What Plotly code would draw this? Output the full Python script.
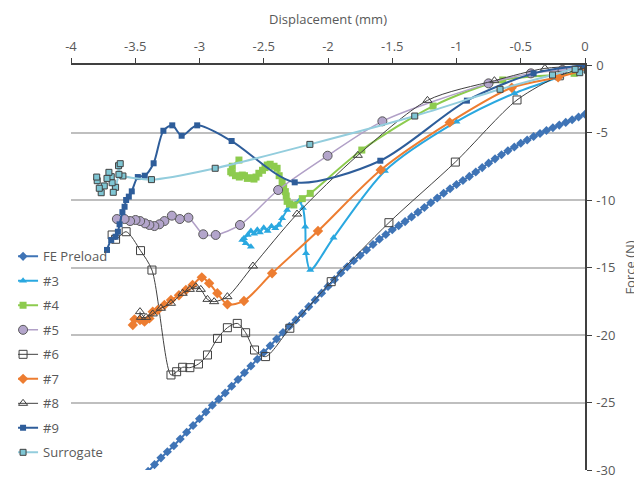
import plotly.graph_objects as go

# ---------------- data (displacement mm, force N) ----------------
fe_x = [0.00, -0.05, -0.10, -0.15, -0.20, -0.25, -0.30, -0.35, -0.40, -0.45,
        -0.50, -0.55, -0.60, -0.65, -0.70, -0.75, -0.80, -0.85, -0.90, -0.95,
        -1.00, -1.05, -1.10, -1.15, -1.20, -1.25, -1.30, -1.35, -1.40, -1.45,
        -1.50, -1.55, -1.60, -1.65, -1.70, -1.75, -1.80, -1.85, -1.90, -1.95,
        -2.00, -2.05, -2.10, -2.15, -2.20, -2.25, -2.30, -2.35, -2.40, -2.45,
        -2.50, -2.55, -2.60, -2.65, -2.70, -2.75, -2.80, -2.85, -2.90, -2.95,
        -3.00, -3.05, -3.10, -3.15, -3.20, -3.25, -3.30, -3.35, -3.40, -3.45,
        -3.50]
fe_f = [-3.65, -3.85, -4.05, -4.25, -4.45, -4.65, -4.85, -5.07, -5.30, -5.55,
        -5.80, -6.07, -6.35, -6.65, -6.95, -7.27, -7.60, -7.93, -8.25, -8.55,
        -8.85, -9.17, -9.50, -9.85, -10.20, -10.55, -10.90, -11.25, -11.60, -11.90,
        -12.20, -12.55, -12.90, -13.30, -13.70, -14.10, -14.50, -14.95, -15.40, -15.90,
        -16.40, -16.90, -17.40, -17.90, -18.40, -18.88, -19.35, -19.82, -20.30, -20.80,
        -21.30, -21.80, -22.30, -22.80, -23.30, -23.80, -24.30, -24.75, -25.20, -25.70,
        -26.20, -26.70, -27.20, -27.70, -28.20, -28.65, -29.10, -29.60, -30.10, -30.55,
        -31.00]

s3_x = [0.00, -0.19, -0.55, -1.00, -1.557, -1.957, -2.138, -2.171, -2.177, -2.195,
        -2.228, -2.28, -2.318, -2.357, -2.383, -2.41, -2.44, -2.47, -2.50, -2.53,
        -2.55, -2.575, -2.60, -2.625, -2.654, -2.667, -2.64, -2.60]
s3_f = [-0.15, -0.86, -2.10, -4.20, -7.85, -12.79, -15.19, -13.95, -11.98, -10.60,
        -10.12, -10.30, -10.74, -11.36, -11.85, -12.10, -11.95, -12.30, -12.05, -12.40,
        -12.20, -12.50, -12.30, -12.60, -12.84, -12.96, -13.20, -13.46]

s4_x = [0.02, -0.085, -0.64, -1.182, -1.737, -2.138, -2.20, -2.266, -2.30, -2.318,
        -2.325, -2.332, -2.345, -2.357, -2.38, -2.396, -2.42, -2.45, -2.473, -2.49,
        -2.51, -2.538, -2.56, -2.576, -2.60, -2.628, -2.65, -2.667, -2.69, -2.72,
        -2.745, -2.757, -2.745, -2.693]
s4_f = [-0.30, -0.62, -1.11, -3.04, -6.30, -9.51, -9.90, -10.37, -10.30, -10.10,
        -9.70, -9.38, -9.00, -8.64, -8.20, -7.65, -7.50, -7.35, -7.41, -7.60,
        -7.80, -8.02, -8.30, -8.45, -8.35, -8.40, -8.20, -8.15, -8.30, -8.20,
        -8.00, -7.90, -7.50, -7.04]

s5_x = [0.00, -0.175, -0.421, -0.751, -1.577, -2.003, -2.388, -2.685, -2.874, -2.971,
        -3.086, -3.153, -3.215, -3.273, -3.312, -3.351, -3.39, -3.424, -3.462, -3.498,
        -3.54, -3.583, -3.643]
s5_f = [-0.10, -0.37, -0.62, -1.36, -4.17, -6.72, -9.26, -11.85, -12.59, -12.54,
        -11.31, -11.41, -11.16, -11.56, -11.80, -11.93, -11.85, -11.73, -11.56, -11.48,
        -11.56, -11.41, -11.41]

s6_x = [0.00, -0.20, -0.529, -1.009, -1.526, -1.975, -2.297, -2.486, -2.572, -2.641,
        -2.706, -2.783, -2.86, -2.938, -3.008, -3.075, -3.131, -3.178, -3.222, -3.37,
        -3.459, -3.571, -3.653, -3.68]
s6_f = [-0.20, -0.80, -2.59, -7.19, -11.68, -16.05, -19.50, -21.60, -21.11, -19.83,
        -19.14, -19.46, -20.25, -21.48, -22.15, -22.42, -22.39, -22.72, -22.96, -15.19,
        -13.75, -12.35, -12.91, -12.59]

s7_x = [0.02, -0.209, -0.57, -1.053, -1.59, -2.078, -2.435, -2.654, -2.783, -2.861,
        -2.925, -2.982, -3.054, -3.106, -3.16, -3.222, -3.273, -3.325, -3.364, -3.39,
        -3.428, -3.463, -3.506, -3.519]
s7_f = [-0.30, -0.91, -1.68, -4.25, -7.78, -12.30, -15.43, -17.48, -17.73, -16.91,
        -16.17, -15.73, -16.30, -16.67, -17.05, -17.41, -17.78, -18.15, -18.27, -18.77,
        -19.01, -18.89, -18.84, -19.26]

s8_x = [0.00, -0.312, -0.705, -1.226, -1.768, -2.241, -2.584, -2.783, -2.886, -2.938,
        -2.99, -3.029, -3.075, -3.131, -3.222, -3.30, -3.364, -3.416, -3.455, -3.463]
s8_f = [-0.10, -0.25, -1.16, -2.62, -6.69, -11.04, -14.89, -17.16, -17.53, -17.36,
        -16.62, -16.42, -16.62, -16.91, -17.65, -18.02, -18.44, -18.69, -18.69, -18.27]

s9_x = [0.00, -0.40, -0.919, -1.593, -2.259, -2.75, -3.018, -3.139, -3.212, -3.281,
        -3.357, -3.426, -3.48, -3.527, -3.55, -3.571, -3.583, -3.60, -3.622, -3.635,
        -3.653, -3.687, -3.72]
s9_f = [0.00, -0.62, -2.64, -7.09, -8.69, -5.63, -4.47, -5.24, -4.47, -4.87,
        -7.28, -8.20, -8.30, -9.36, -9.75, -10.00, -10.50, -10.90, -11.80, -12.35,
        -12.72, -12.96, -13.70]

sur_x = [0.02, -0.041, -0.077, -0.253, -0.661, -1.325, -2.141, -2.878, -3.374, -3.596,
         -3.627, -3.63, -3.617, -3.653, -3.671, -3.68, -3.687, -3.705, -3.72, -3.741,
         -3.765, -3.78, -3.796, -3.80]
sur_f = [-0.40, -0.57, -0.32, -0.74, -1.80, -3.78, -5.88, -7.65, -8.49, -8.22,
         -8.10, -7.46, -7.31, -9.06, -9.43, -8.72, -8.27, -7.95, -8.40, -8.96,
         -9.46, -9.13, -8.57, -8.30]

x_ticks = [-4, -3.5, -3, -2.5, -2, -1.5, -1, -0.5, 0]
x_tick_text = ["-4", "-3.5", "-3", "-2.5", "-2", "-1.5", "-1", "-0.5", "0"]
y_ticks = [0, -5, -10, -15, -20, -25, -30]
y_tick_text = ["0", "-5", "-10", "-15", "-20", "-25", "-30"]

# ---------------- figure ----------------
FONT = "Open Sans"
fig = go.Figure()

def add(name, xs, ys, color, lw, symbol, msize, mfill, mline, mlw):
    fig.add_trace(go.Scatter(
        x=xs, y=ys, name=name, mode="lines+markers", legendgroup=name,
        line=dict(color=color, width=lw, shape="spline", smoothing=0.8),
        marker=dict(symbol=symbol, size=msize, color=mfill,
                    line=dict(color=mline, width=mlw)),
    ))

add("FE Preload", fe_x, fe_f, "#3F74B6", 2, "diamond", 7, "#3F74B6", "#3F74B6", 0)
add("#3", s3_x, s3_f, "#2AA8E0", 2, "triangle-up", 7, "#2AA8E0", "#2AA8E0", 0)
add("#4", s4_x, s4_f, "#8DCB4E", 2, "square", 7, "#8DCB4E", "#8DCB4E", 0)
add("#5", s5_x, s5_f, "#B1A0C7", 1.5, "circle", 9, "#B3A5CB", "#595959", 1)
add("#6", s6_x, s6_f, "#404040", 1, "square-open", 8, "#404040", "#404040", 1)
add("#7", s7_x, s7_f, "#ED7D31", 2, "diamond", 8, "#ED7D31", "#ED7D31", 0)
add("#8", s8_x, s8_f, "#404040", 1, "triangle-up-open", 8, "#404040", "#404040", 1)
add("#9", s9_x, s9_f, "#2E5D9A", 2, "square", 6, "#2E5D9A", "#2E5D9A", 0)
add("Surrogate", sur_x, sur_f, "#93CDDD", 2, "square", 6, "#7FC6D4", "#404040", 1)

fig.update_layout(
    width=634, height=472,
    margin=dict(l=60, r=57, t=57, b=10),
    paper_bgcolor="white", plot_bgcolor="white",
    font=dict(family=FONT, size=13, color="#595959"),
    showlegend=True,
    legend=dict(x=-0.103, xanchor="left", y=0.5645, yanchor="top",
                bgcolor="rgba(255,255,255,0)", borderwidth=0,
                font=dict(family=FONT, size=13, color="#595959"),
                tracegroupgap=4.6, itemwidth=30, indentation=-15),
    xaxis=dict(range=[-4, 0], side="top", tickvals=x_ticks, ticktext=x_tick_text,
               automargin=False, ticklabelstandoff=2,
               showgrid=False, zeroline=False, showline=True, linecolor="#404040",
               linewidth=1.5, ticks="outside", ticklen=5, tickcolor="#404040",
               title=dict(text="Displacement (mm)", standoff=9,
                          font=dict(family=FONT, size=13, color="#595959"))),
    yaxis=dict(range=[-30, 0], side="right", tickvals=y_ticks, ticktext=y_tick_text,
               automargin=False, ticklabelstandoff=2,
               showgrid=True, gridcolor="#BFBFBF", gridwidth=1.5, zeroline=False,
               showline=True, linecolor="#404040", linewidth=1.5,
               ticks="outside", ticklen=5, tickcolor="#404040",
               title=dict(text="Force (N)", standoff=11,
                          font=dict(family=FONT, size=13, color="#595959"))),
)

fig.write_html("out.html")
